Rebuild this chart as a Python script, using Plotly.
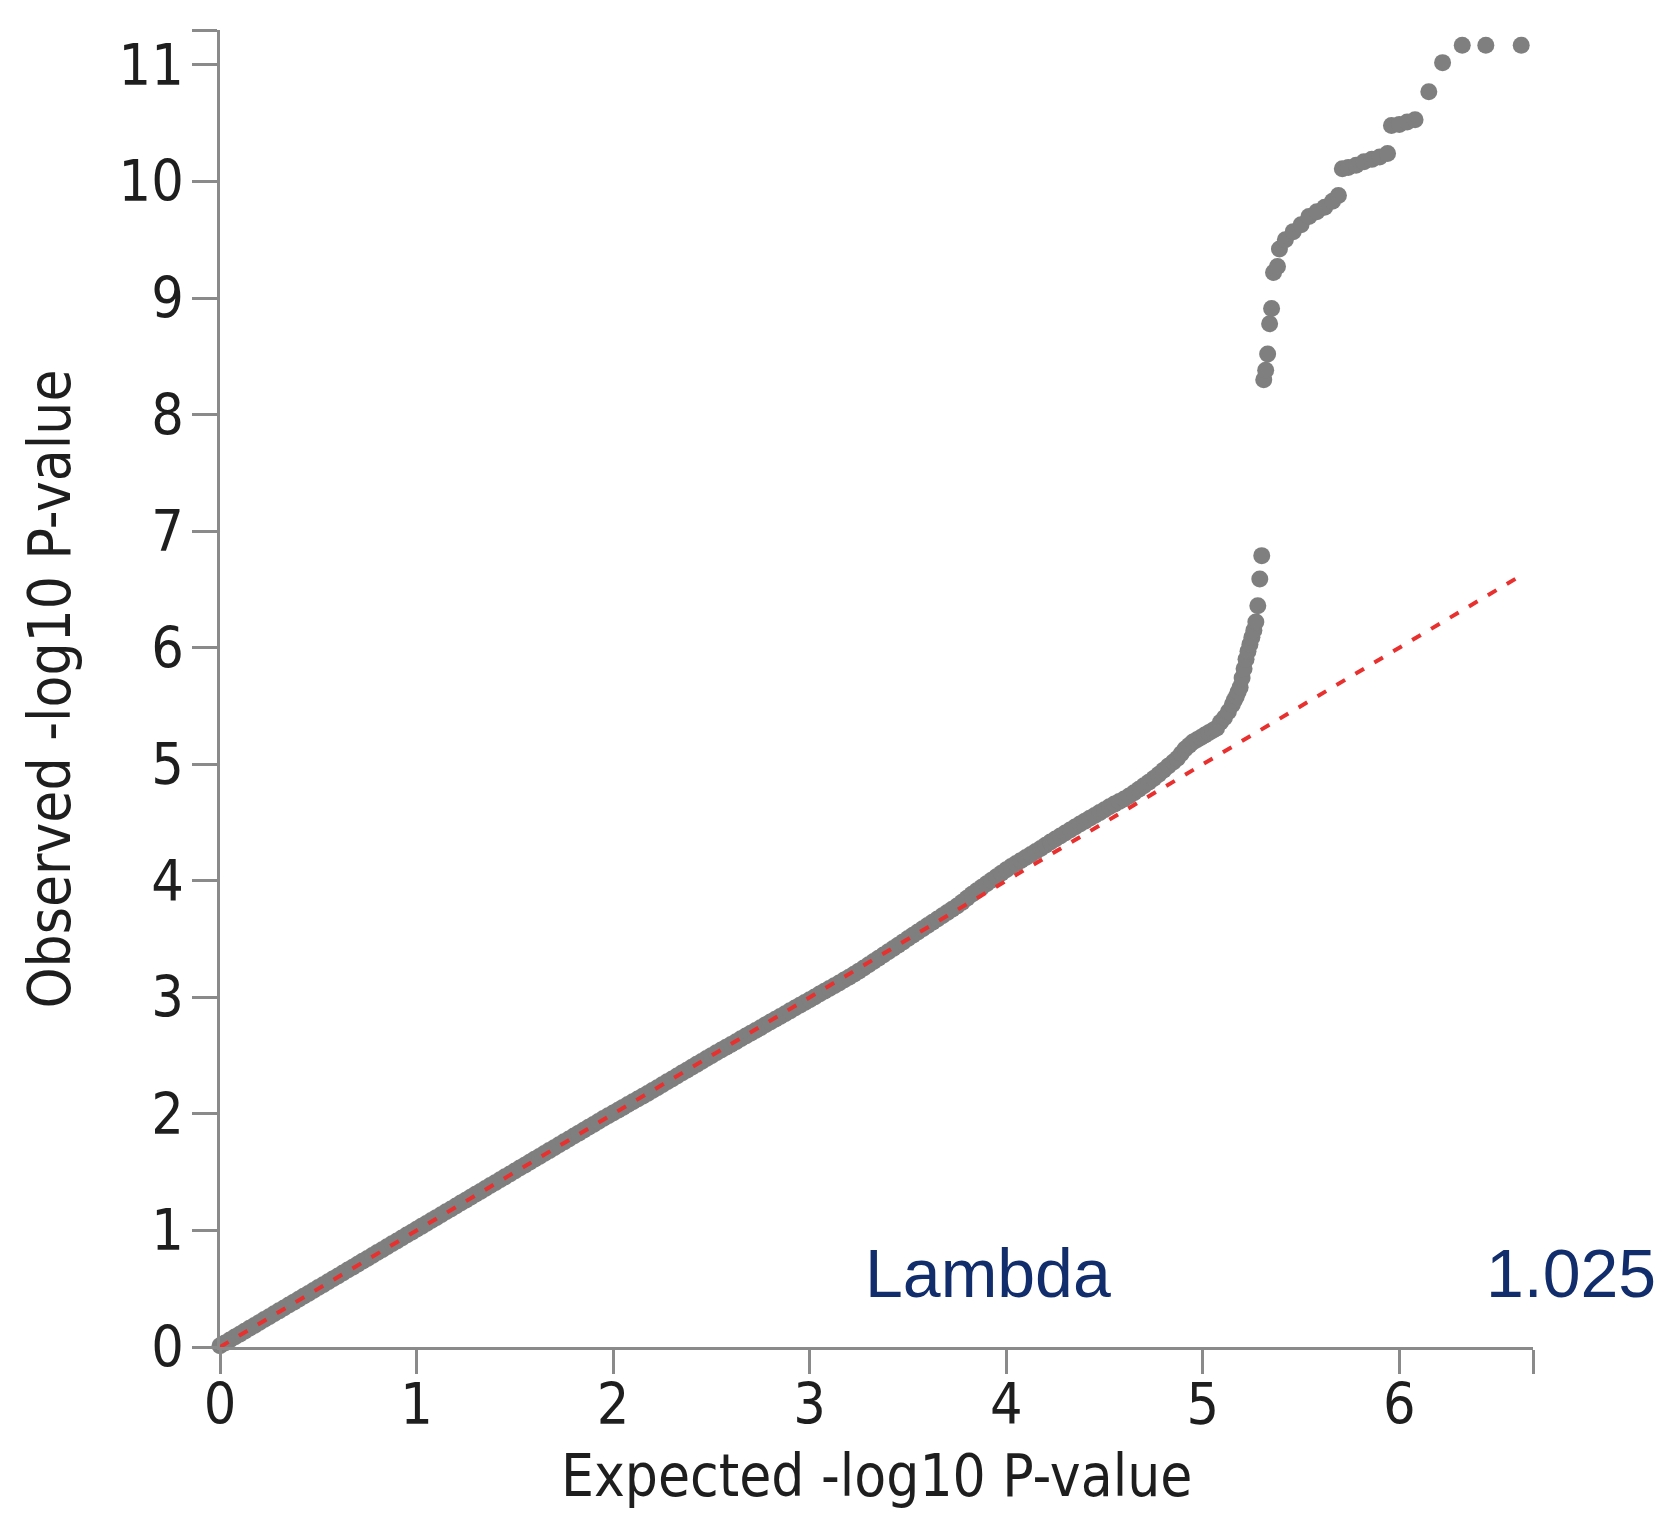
import plotly.graph_objects as go

# ---------------- data ----------------
expected = [
    0.000, 0.025, 0.050, 0.075, 0.100, 0.125, 0.150, 0.175,
    0.200, 0.225, 0.250, 0.275, 0.300, 0.325, 0.350, 0.375,
    0.400, 0.425, 0.450, 0.475, 0.500, 0.525, 0.550, 0.575,
    0.600, 0.625, 0.650, 0.675, 0.700, 0.725, 0.750, 0.775,
    0.800, 0.825, 0.850, 0.875, 0.900, 0.925, 0.950, 0.975,
    1.000, 1.025, 1.050, 1.075, 1.100, 1.125, 1.150, 1.175,
    1.200, 1.225, 1.250, 1.275, 1.300, 1.325, 1.350, 1.375,
    1.400, 1.425, 1.450, 1.475, 1.500, 1.525, 1.550, 1.575,
    1.600, 1.625, 1.650, 1.675, 1.700, 1.725, 1.750, 1.775,
    1.800, 1.825, 1.850, 1.875, 1.900, 1.925, 1.950, 1.975,
    2.000, 2.025, 2.050, 2.075, 2.100, 2.125, 2.150, 2.175,
    2.200, 2.225, 2.250, 2.275, 2.300, 2.325, 2.350, 2.375,
    2.400, 2.425, 2.450, 2.475, 2.500, 2.525, 2.550, 2.575,
    2.600, 2.625, 2.650, 2.675, 2.700, 2.725, 2.750, 2.775,
    2.800, 2.825, 2.850, 2.875, 2.900, 2.925, 2.950, 2.975,
    3.000, 3.025, 3.050, 3.075, 3.100, 3.125, 3.150, 3.175,
    3.200, 3.225, 3.250, 3.275, 3.300, 3.325, 3.350, 3.375,
    3.400, 3.425, 3.450, 3.475, 3.500, 3.525, 3.550, 3.575,
    3.600, 3.625, 3.650, 3.675, 3.700, 3.725, 3.750, 3.775,
    3.800, 3.825, 3.850, 3.875, 3.900, 3.925, 3.950, 3.975,
    4.000, 4.025, 4.050, 4.075, 4.100, 4.125, 4.150, 4.175,
    4.200, 4.225, 4.250, 4.275, 4.300, 4.325, 4.350, 4.375,
    4.400, 4.425, 4.450, 4.475, 4.500, 4.525, 4.550, 4.575,
    4.600, 4.625, 4.650, 4.675, 4.700, 4.725, 4.750, 4.775,
    4.800, 4.825, 4.850, 4.870, 4.890, 4.910, 4.930, 4.950,
    4.970, 4.990, 5.010, 5.030, 5.050, 5.070, 5.090, 5.110,
    5.130, 5.150, 5.160, 5.170, 5.180, 5.190, 5.200, 5.210,
    5.220, 5.230, 5.240, 5.250, 5.260, 5.270, 5.280, 5.290,
    5.300, 5.310, 5.320, 5.330, 5.340, 5.350, 5.360, 5.380,
    5.390, 5.420, 5.460, 5.500, 5.540, 5.580, 5.620, 5.660,
    5.690, 5.710, 5.740, 5.780, 5.820, 5.860, 5.900, 5.940,
    5.960, 6.000, 6.040, 6.080, 6.150, 6.220, 6.320, 6.440,
    6.620,
]
observed = [
    0.010, 0.035, 0.060, 0.085, 0.110, 0.135, 0.160, 0.185,
    0.210, 0.235, 0.260, 0.285, 0.310, 0.335, 0.360, 0.385,
    0.410, 0.435, 0.460, 0.485, 0.510, 0.535, 0.560, 0.585,
    0.610, 0.635, 0.660, 0.685, 0.710, 0.735, 0.760, 0.785,
    0.810, 0.835, 0.860, 0.885, 0.910, 0.935, 0.960, 0.985,
    1.010, 1.035, 1.060, 1.085, 1.110, 1.135, 1.160, 1.185,
    1.210, 1.235, 1.260, 1.285, 1.310, 1.335, 1.360, 1.385,
    1.410, 1.435, 1.460, 1.485, 1.510, 1.535, 1.560, 1.585,
    1.610, 1.635, 1.660, 1.685, 1.710, 1.735, 1.760, 1.785,
    1.810, 1.835, 1.860, 1.885, 1.910, 1.935, 1.960, 1.985,
    2.008, 2.032, 2.056, 2.080, 2.104, 2.128, 2.152, 2.176,
    2.200, 2.225, 2.250, 2.275, 2.300, 2.325, 2.350, 2.375,
    2.400, 2.425, 2.450, 2.475, 2.500, 2.524, 2.548, 2.572,
    2.596, 2.620, 2.644, 2.668, 2.692, 2.716, 2.740, 2.764,
    2.788, 2.812, 2.836, 2.860, 2.884, 2.908, 2.932, 2.956,
    2.980, 3.004, 3.028, 3.052, 3.076, 3.100, 3.124, 3.148,
    3.172, 3.198, 3.225, 3.252, 3.280, 3.308, 3.336, 3.364,
    3.392, 3.420, 3.448, 3.476, 3.504, 3.532, 3.560, 3.588,
    3.616, 3.644, 3.672, 3.700, 3.728, 3.756, 3.784, 3.815,
    3.850, 3.885, 3.915, 3.945, 3.975, 4.005, 4.035, 4.065,
    4.095, 4.122, 4.148, 4.174, 4.200, 4.226, 4.252, 4.278,
    4.305, 4.332, 4.358, 4.384, 4.410, 4.436, 4.462, 4.488,
    4.512, 4.536, 4.560, 4.585, 4.610, 4.635, 4.658, 4.680,
    4.702, 4.728, 4.756, 4.785, 4.815, 4.845, 4.878, 4.912,
    4.948, 4.985, 5.020, 5.050, 5.090, 5.130, 5.160, 5.190,
    5.210, 5.230, 5.250, 5.270, 5.290, 5.310, 5.360, 5.400,
    5.450, 5.510, 5.550, 5.580, 5.620, 5.660, 5.740, 5.820,
    5.900, 5.970, 6.030, 6.090, 6.150, 6.220, 6.360, 6.590,
    6.790, 8.300, 8.380, 8.520, 8.780, 8.910, 9.220, 9.270,
    9.420, 9.500, 9.570, 9.630, 9.700, 9.740, 9.780, 9.830,
    9.880, 10.110, 10.120, 10.140, 10.170, 10.190, 10.210, 10.240,
    10.480, 10.490, 10.510, 10.530, 10.770, 11.020, 11.170, 11.170,
    11.170,
]
null_x = [0.0, 6.63]
null_y = [0.0, 6.63]

x_tick_vals = [0, 1, 2, 3, 4, 5, 6]
y_tick_vals = [0, 1, 2, 3, 4, 5, 6, 7, 8, 9, 10, 11]
x_axis_end = 6.68
y_axis_end = 11.3

x_title = "Expected -log10 P-value"
y_title = "Observed -log10 P-value"
lambda_label = "Lambda"
lambda_value = "1.025"

# ---------------- figure ----------------
AXIS_COLOR = "#8a8a8a"
TEXT_COLOR = "#1e1e1e"
NAVY = "#122d6c"
FONT = "DejaVu Sans Condensed, DejaVu Sans"

fig = go.Figure()
fig.add_trace(go.Scatter(
    x=expected, y=observed, mode="markers",
    marker=dict(size=17, color="#7f7f7f", line=dict(width=0)),
    cliponaxis=False, showlegend=False, hoverinfo="x+y",
))
fig.add_trace(go.Scatter(
    x=null_x, y=null_y, mode="lines",
    line=dict(color="#e8302f", width=4, dash="10px,12px"),
    showlegend=False, hoverinfo="skip",
))

tick_font = dict(family=FONT, size=57, color=TEXT_COLOR)
title_font = dict(family=FONT, size=58, color=TEXT_COLOR)

fig.update_xaxes(
    range=[0, x_axis_end],
    tickvals=x_tick_vals + [x_axis_end],
    ticktext=[str(v) for v in x_tick_vals] + [""],
    showline=True, linecolor=AXIS_COLOR, linewidth=2.5,
    ticks="outside", ticklen=24, tickwidth=2.5, tickcolor=AXIS_COLOR,
    tickfont=tick_font, showgrid=False, zeroline=False,
    ticklabelstandoff=-18,
)
fig.update_yaxes(
    range=[0, y_axis_end],
    tickvals=y_tick_vals + [y_axis_end],
    ticktext=[str(v) for v in y_tick_vals] + [""],
    showline=True, linecolor=AXIS_COLOR, linewidth=2.5,
    ticks="outside", ticklen=25, tickwidth=2.5, tickcolor=AXIS_COLOR,
    tickfont=tick_font, showgrid=False, zeroline=False,
    ticklabelstandoff=-3,
)

fig.update_layout(
    width=1666, height=1516,
    margin=dict(l=220, r=133, t=30, b=169),
    plot_bgcolor="white", paper_bgcolor="white",
    annotations=[
        dict(text=x_title, xref="paper", yref="paper", x=0.5, y=-0.098,
             xanchor="center", yanchor="middle", showarrow=False,
             font=title_font),
        dict(text=y_title, xref="paper", yref="paper", x=-0.1295, y=0.5,
             xanchor="center", yanchor="middle", showarrow=False, textangle=-90,
             font=title_font),
        dict(text=lambda_label, xref="x", yref="y", x=3.27, y=0.635,
             xanchor="left", yanchor="middle", showarrow=False,
             font=dict(family="Liberation Sans", size=68, color=NAVY)),
        dict(text=lambda_value, xref="paper", yref="y", x=1.095, y=0.635,
             xanchor="right", yanchor="middle", showarrow=False,
             font=dict(family="Liberation Sans", size=68, color=NAVY)),
    ],
)

fig.write_html("out.html", config={"displayModeBar": False},
               post_script="document.body.style.margin='0';")
